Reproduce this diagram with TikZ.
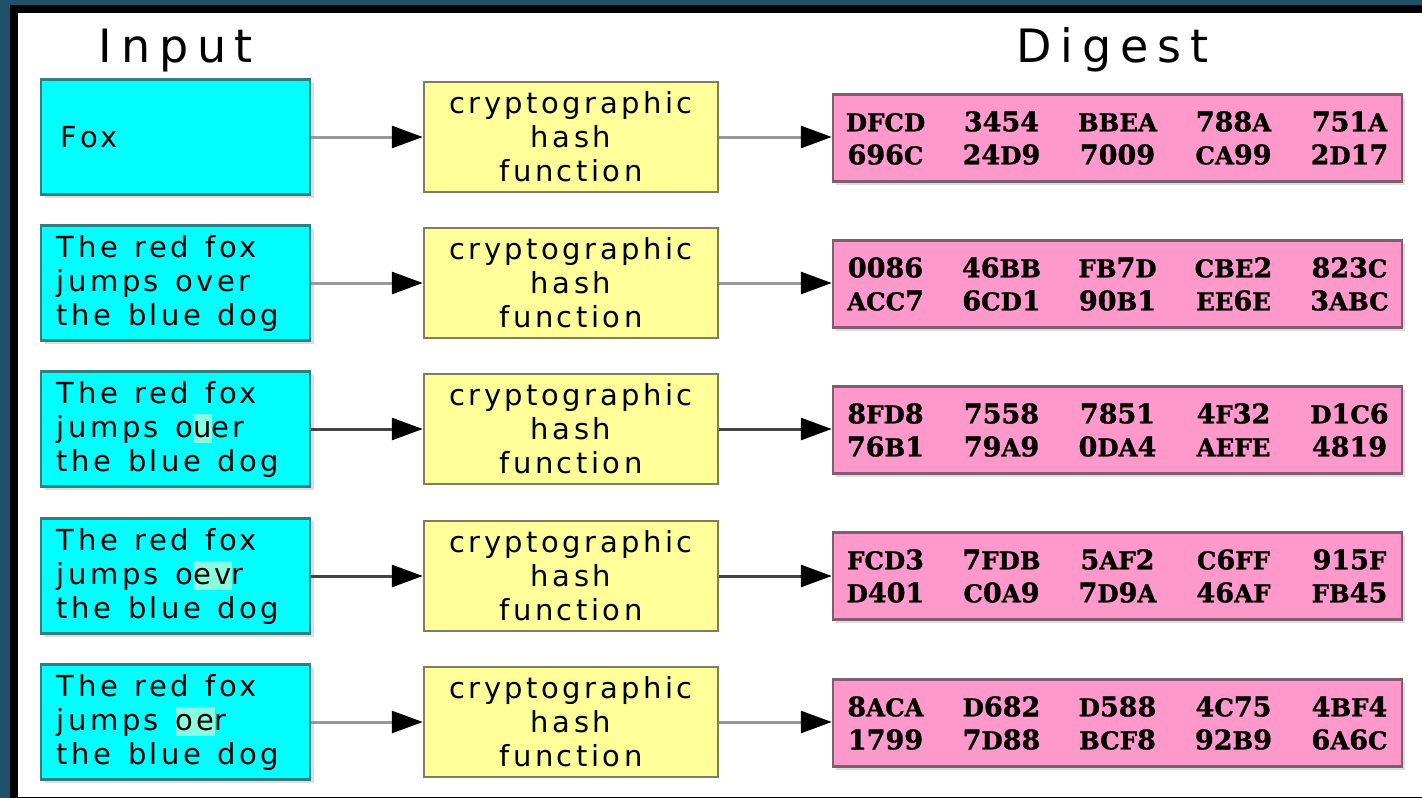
\documentclass[tikz,border=0pt]{standalone}
\usepackage{fontspec}
\setmainfont{DejaVu Sans}
\newfontfamily\boxfont{DejaVu Sans}[LetterSpace=12, WordSpace=1.3]
\newfontfamily\headfont{DejaVu Sans}[LetterSpace=19]
\newfontfamily\hexfont{DejaVu Serif}[BoldFeatures={FakeBold=1.2}]
\usetikzlibrary{arrows.meta,shadows}

\definecolor{frameteal}{HTML}{1F5169}
\definecolor{inputfill}{HTML}{00FFFF}
\definecolor{inputdraw}{HTML}{2E7F7F}
\definecolor{hashfill}{HTML}{FFFF99}
\definecolor{hashdraw}{HTML}{7F7F5F}
\definecolor{digestfill}{HTML}{FF99CC}
\definecolor{digestdraw}{HTML}{7F5F6F}
\definecolor{changed}{HTML}{88FFE0}
\definecolor{shadowgray}{HTML}{DDDDDD}
\definecolor{lightline}{HTML}{999999}
\definecolor{darkline}{HTML}{444444}

% text set in the boxes
\newcommand\boxtext{\boxfont\fontsize{29}{34}\selectfont}
\newcommand\hextext{\hexfont\bfseries\fontsize{27}{33}\selectfont}
% hex letters are set a size smaller than the digits
\newcommand\sm[1]{{\fontsize{24.5}{33}\selectfont#1}}
% one four-digit group of a digest, and a line of five groups
\newcommand\dw[1]{\makebox[116pt]{#1}}
\newcommand\dline[5]{\makebox[560pt]{\dw{#1}\dw{#2}\dw{#3}\dw{#4}\dw{#5}}}
% letters that differ from the original sentence
\newcommand\chg[1]{{\setlength{\fboxsep}{0pt}\colorbox{changed}{\rule[-0.22em]{0pt}{1em}#1}}}

\tikzset{
  inbox/.style={draw=inputdraw, fill=inputfill, line width=2.5pt,
    minimum width=269pt, minimum height=115pt, inner sep=0pt,
    drop shadow={shadow xshift=4pt, shadow yshift=-3pt, fill=shadowgray, opacity=1}},
  intext/.style={anchor=west, inner sep=0pt, align=left, font=\boxtext},
  hashbox/.style={draw=hashdraw, fill=hashfill, line width=2.5pt,
    minimum width=294pt, minimum height=110pt, inner sep=0pt,
    align=center, font=\boxtext},
  digestbox/.style={draw=digestdraw, fill=digestfill, line width=2.5pt,
    minimum width=569pt, minimum height=87pt, inner sep=0pt,
    align=center, font=\hextext,
    drop shadow={shadow xshift=3pt, shadow yshift=-3pt, fill=shadowgray, opacity=1}},
  head/.style={anchor=base, inner sep=0pt, font=\headfont\fontsize{46}{50}\selectfont},
  flow/.style={line width=3pt, -{Triangle[length=31pt, width=22pt, color=black]}},
}

\begin{document}
\begin{tikzpicture}[x=1pt, y=-1pt]
% frame
\fill[frameteal] (0,0) rectangle (1422,798);
\fill[black] (10,5) rectangle (1422,798);
\fill[white] (18,13) rectangle (1422,797);
\useasboundingbox (0,0) rectangle (1422,798);

% column headings
\node[head] (inputhead) at (176,62) {Input};
\node[head] (digesthead) at (1112.5,62) {Digest};

% row 1
\node[inbox] (in1) at (175.5,137) {};
\node[intext] (t1) at ([xshift=21pt]in1.west) {Fox};
\node[hashbox] (h1) at (571,137) {cryptographic\\hash\\function};
\node[digestbox] (d1) at (1117.5,138) {%
\dline{\sm{DFCD}}{3454}{\sm{BBEA}}{788\sm{A}}{751\sm{A}}\\
\dline{696\sm{C}}{24\sm{D}9}{7009}{\sm{CA}99}{2\sm{D}17}};

% row 2
\node[inbox] (in2) at (175.5,283) {};
\node[intext] (t2) at ([xshift=17pt]in2.west) {The red fox\\jumps over\\the blue dog};
\node[hashbox] (h2) at (571,283) {cryptographic\\hash\\function};
\node[digestbox] (d2) at (1117.5,284) {%
\dline{0086}{46\sm{BB}}{\sm{FB}7\sm{D}}{\sm{CBE}2}{823\sm{C}}\\
\dline{\sm{ACC}7}{6\sm{CD}1}{90\sm{B}1}{\sm{EE}6\sm{E}}{3\sm{ABC}}};

% row 3
\node[inbox] (in3) at (175.5,429) {};
\node[intext] (t3) at ([xshift=17pt]in3.west) {The red fox\\jumps o\chg{u}er\\the blue dog};
\node[hashbox] (h3) at (571,429) {cryptographic\\hash\\function};
\node[digestbox] (d3) at (1117.5,430) {%
\dline{8\sm{FD}8}{7558}{7851}{4\sm{F}32}{\sm{D}1\sm{C}6}\\
\dline{76\sm{B}1}{79\sm{A}9}{0\sm{DA}4}{\sm{AEFE}}{4819}};

% row 4
\node[inbox] (in4) at (175.5,576) {};
\node[intext] (t4) at ([xshift=17pt]in4.west) {The red fox\\jumps o\chg{ev}r\\the blue dog};
\node[hashbox] (h4) at (571,576) {cryptographic\\hash\\function};
\node[digestbox] (d4) at (1117.5,576) {%
\dline{\sm{FCD}3}{7\sm{FDB}}{5\sm{AF}2}{\sm{C}6\sm{FF}}{915\sm{F}}\\
\dline{\sm{D}401}{\sm{C}0\sm{A}9}{7\sm{D}9\sm{A}}{46\sm{AF}}{\sm{FB}45}};

% row 5
\node[inbox] (in5) at (175.5,722) {};
\node[intext] (t5) at ([xshift=17pt]in5.west) {The red fox\\jumps \chg{oe}r\\the blue dog};
\node[hashbox] (h5) at (571,722) {cryptographic\\hash\\function};
\node[digestbox] (d5) at (1117.5,723) {%
\dline{8\sm{ACA}}{\sm{D}682}{\sm{D}588}{4\sm{C}75}{4\sm{BF}4}\\
\dline{1799}{7\sm{D}88}{\sm{BCF}8}{92\sm{B}9}{6\sm{A}6\sm{C}}};

% connectors
\draw[flow, lightline] (in1.east) -- (in1.east -| h1.west);
\draw[flow, lightline] (h1.east) -- (h1.east -| d1.west);
\draw[flow, lightline] (in2.east) -- (in2.east -| h2.west);
\draw[flow, lightline] (h2.east) -- (h2.east -| d2.west);
\draw[flow, darkline] (in3.east) -- (in3.east -| h3.west);
\draw[flow, darkline] (h3.east) -- (h3.east -| d3.west);
\draw[flow, darkline] (in4.east) -- (in4.east -| h4.west);
\draw[flow, darkline] (h4.east) -- (h4.east -| d4.west);
\draw[flow, lightline] (in5.east) -- (in5.east -| h5.west);
\draw[flow, lightline] (h5.east) -- (h5.east -| d5.west);
\end{tikzpicture}
\end{document}
